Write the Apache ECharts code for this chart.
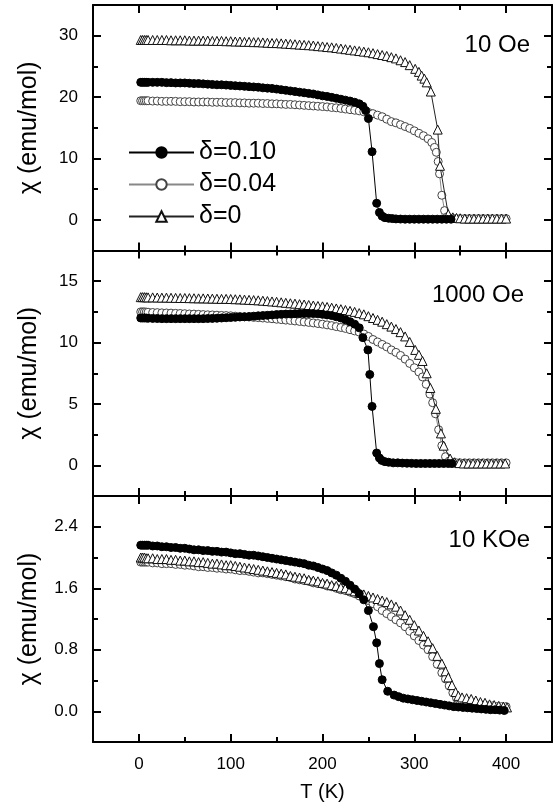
<!DOCTYPE html>
<html>
<head>
<meta charset="utf-8">
<script src="https://cdn.jsdelivr.net/npm/echarts@6/dist/echarts.min.js"></script>
<style>html,body{margin:0;padding:0;background:#fff;}#c{width:555px;height:809px;}</style>
</head>
<body>
<div id="c"></div>
<script>
// ---------- data (T in K, chi in emu/mol) ----------
const seriesNames = ['δ=0.10', 'δ=0.04', 'δ=0'];
const panelLabels = ['10 Oe', '1000 Oe', '10 KOe'];

const xMajor = [0, 100, 200, 300, 400];
const xMinor = [50, 150, 250, 350];
const yMajor1 = [0, 10, 20, 30];
const yMinor1 = [5, 15, 25];
const yMajor2 = [0, 5, 10, 15];
const yMinor2 = [2.5, 7.5, 12.5];
const yMajor3 = [0, 0.8, 1.6, 2.4];
const yMinor3 = [0.4, 1.2, 2.0];

// 10 Oe
const oe10_d010 = [[2,22.4],[4,22.4],[6,22.4],[8,22.4],[10,22.4],[15,22.4],[20,22.4],[25,22.4],[30,22.35],[35,22.35],[40,22.3],[45,22.3],[50,22.3],[55,22.25],[60,22.2],[65,22.2],[70,22.15],[75,22.1],[80,22.05],[85,22.0],[90,22.0],[95,21.95],[100,21.9],[105,21.85],[110,21.8],[115,21.75],[120,21.7],[125,21.65],[130,21.6],[135,21.5],[140,21.45],[145,21.4],[150,21.3],[155,21.2],[160,21.1],[165,21.0],[170,20.9],[175,20.8],[180,20.7],[185,20.6],[190,20.5],[195,20.35],[200,20.2],[205,20.1],[210,19.95],[215,19.8],[220,19.65],[225,19.5],[230,19.35],[235,19.15],[240,18.9],[244,18.5],[247,17.8],[250,16.5],[254,11.1],[259,2.7],[262,1.2],[265,0.6],[268,0.35],[272,0.25],[276,0.2],[280,0.15],[285,0.12],[290,0.1],[295,0.1],[300,0.1],[305,0.1],[310,0.1],[315,0.1],[320,0.1],[325,0.1],[330,0.1],[335,0.1],[340,0.1]];
const oe10_d004 = [[2,19.4],[4,19.4],[6,19.4],[8,19.4],[10,19.4],[15,19.35],[20,19.35],[25,19.3],[30,19.3],[35,19.3],[40,19.3],[45,19.25],[50,19.25],[55,19.25],[60,19.2],[65,19.2],[70,19.2],[75,19.2],[80,19.15],[85,19.15],[90,19.15],[95,19.1],[100,19.1],[105,19.1],[110,19.05],[115,19.05],[120,19.0],[125,19.0],[130,19.0],[135,18.95],[140,18.95],[145,18.9],[150,18.9],[155,18.85],[160,18.8],[165,18.8],[170,18.75],[175,18.7],[180,18.65],[185,18.6],[190,18.55],[195,18.5],[200,18.45],[205,18.4],[210,18.3],[215,18.25],[220,18.15],[225,18.05],[230,17.95],[235,17.85],[240,17.75],[245,17.6],[250,17.5],[255,17.3],[260,17.05],[265,16.8],[270,16.4],[275,16.0],[280,15.8],[285,15.5],[290,15.2],[295,14.9],[300,14.5],[305,14.1],[310,13.7],[315,13.2],[319,12.6],[322,11.8],[324,11.0],[326,9.5],[327.5,7.5],[330,4.0],[333,1.5],[336,0.5],[340,0.25],[345,0.2],[350,0.2],[355,0.2],[360,0.2],[365,0.2],[370,0.2],[375,0.2],[380,0.2],[385,0.2],[390,0.2],[395,0.2],[400,0.2]];
const oe10_d000 = [[2,29.3],[4,29.3],[6,29.3],[8,29.3],[10,29.3],[15,29.3],[20,29.3],[25,29.3],[30,29.3],[35,29.25],[40,29.25],[45,29.25],[50,29.25],[55,29.2],[60,29.2],[65,29.2],[70,29.2],[75,29.2],[80,29.15],[85,29.15],[90,29.15],[95,29.1],[100,29.1],[105,29.05],[110,29.05],[115,29.0],[120,29.0],[125,28.95],[130,28.95],[135,28.9],[140,28.85],[145,28.8],[150,28.8],[155,28.75],[160,28.7],[165,28.65],[170,28.6],[175,28.55],[180,28.5],[185,28.45],[190,28.4],[195,28.3],[200,28.25],[205,28.15],[210,28.1],[215,28.0],[220,27.9],[225,27.8],[230,27.7],[235,27.6],[240,27.5],[245,27.4],[250,27.3],[255,27.15],[260,27.0],[265,26.85],[270,26.7],[275,26.5],[280,26.3],[285,26.0],[290,25.7],[295,25.2],[301,24.6],[305,24.1],[308,23.5],[311,23.0],[313.5,22.4],[318,20.9],[325.5,14.7],[328,8.8],[337,0.9],[342,0.4],[346,0.3],[350,0.25],[355,0.2],[360,0.2],[365,0.2],[370,0.2],[375,0.2],[380,0.2],[385,0.2],[390,0.2],[395,0.2],[400,0.2]];

// 1000 Oe
const oe1000_d010 = [[2,12.0],[4,12.0],[6,12.0],[8,12.0],[10,11.98],[15,11.97],[20,11.96],[25,11.95],[30,11.95],[35,11.95],[40,11.95],[45,11.95],[50,11.95],[55,11.95],[60,11.95],[65,11.95],[70,11.95],[75,11.96],[80,11.97],[85,11.98],[90,12.0],[95,12.02],[100,12.04],[105,12.06],[110,12.08],[115,12.1],[120,12.12],[125,12.15],[130,12.18],[135,12.2],[140,12.22],[145,12.25],[150,12.28],[155,12.3],[160,12.32],[165,12.33],[170,12.35],[175,12.36],[180,12.37],[185,12.37],[190,12.36],[195,12.34],[200,12.3],[205,12.25],[210,12.2],[215,12.1],[220,12.0],[225,11.85],[230,11.7],[235,11.5],[240,11.2],[244,10.4],[249.5,9.4],[251.5,7.4],[254,4.8],[259,1.0],[262,0.6],[264.5,0.4],[268,0.3],[272,0.25],[277,0.2],[282,0.2],[287,0.18],[292,0.17],[297,0.16],[302,0.15],[307,0.15],[312,0.15],[317,0.15],[322,0.15],[327,0.15],[332,0.15],[337,0.15],[341,0.15]];
const oe1000_d004 = [[2,12.5],[4,12.5],[6,12.5],[8,12.48],[10,12.47],[15,12.45],[20,12.44],[25,12.42],[30,12.41],[35,12.4],[40,12.38],[45,12.37],[50,12.35],[55,12.33],[60,12.32],[65,12.3],[70,12.28],[75,12.26],[80,12.25],[85,12.23],[90,12.21],[95,12.2],[100,12.18],[105,12.15],[110,12.13],[115,12.1],[120,12.08],[125,12.05],[130,12.03],[135,12.0],[140,11.97],[145,11.94],[150,11.9],[155,11.87],[160,11.83],[165,11.8],[170,11.76],[175,11.72],[180,11.68],[185,11.64],[190,11.6],[195,11.55],[200,11.5],[205,11.44],[210,11.38],[215,11.3],[220,11.23],[225,11.15],[230,11.05],[235,10.95],[240,10.85],[245,10.7],[250,10.5],[255,10.25],[260,10.05],[265,9.85],[270,9.65],[275,9.4],[280,9.2],[285,8.95],[290,8.65],[295,8.3],[300,7.95],[305,7.6],[309,7.2],[313,6.6],[317,5.8],[320,5.1],[323,4.2],[326.5,2.9],[330,1.6],[334,0.7],[338,0.35],[342,0.25],[346,0.2],[350,0.2],[355,0.2],[360,0.2],[365,0.2],[370,0.2],[375,0.2],[380,0.2],[385,0.2],[390,0.2],[395,0.2],[400,0.2]];
const oe1000_d000 = [[2,13.7],[4,13.7],[6,13.7],[8,13.69],[10,13.68],[15,13.68],[20,13.67],[25,13.66],[30,13.66],[35,13.65],[40,13.64],[45,13.63],[50,13.63],[55,13.62],[60,13.61],[65,13.6],[70,13.6],[75,13.59],[80,13.58],[85,13.57],[90,13.56],[95,13.56],[100,13.55],[105,13.53],[110,13.52],[115,13.5],[120,13.48],[125,13.46],[130,13.44],[135,13.41],[140,13.38],[145,13.35],[150,13.32],[155,13.28],[160,13.24],[165,13.2],[170,13.17],[175,13.13],[180,13.1],[185,13.06],[190,13.02],[195,12.98],[200,12.95],[205,12.9],[210,12.84],[215,12.78],[220,12.72],[225,12.65],[230,12.58],[235,12.5],[240,12.4],[245,12.3],[250,12.15],[255,12.0],[260,11.85],[265,11.7],[270,11.5],[275,11.3],[280,11.1],[285,10.85],[290,10.5],[295,10.05],[301,9.4],[305,9.0],[309,8.5],[313.5,7.5],[317.5,6.3],[323.5,4.6],[329,2.6],[332,1.6],[339,0.55],[344,0.25],[349,0.18],[354,0.15],[359,0.15],[364,0.15],[369,0.15],[374,0.15],[379,0.15],[384,0.15],[389,0.15],[394,0.15],[399,0.15]];

// 10 KOe
const koe10_d010 = [[2,2.16],[4,2.16],[6,2.16],[8,2.16],[10,2.16],[15,2.15],[20,2.15],[25,2.14],[30,2.14],[35,2.13],[40,2.13],[45,2.12],[50,2.12],[55,2.11],[60,2.1],[65,2.1],[70,2.09],[75,2.09],[80,2.08],[85,2.08],[90,2.07],[95,2.07],[100,2.06],[105,2.05],[110,2.05],[115,2.04],[120,2.03],[125,2.03],[130,2.02],[135,2.01],[140,2.0],[145,1.99],[150,1.98],[155,1.97],[160,1.96],[165,1.95],[170,1.94],[175,1.93],[180,1.92],[185,1.9],[190,1.89],[195,1.87],[200,1.85],[205,1.83],[210,1.8],[215,1.77],[220,1.73],[225,1.69],[230,1.64],[235,1.59],[240,1.53],[245,1.45],[250,1.31],[255.5,1.1],[259,0.89],[262,0.62],[265,0.41],[271,0.26],[278,0.21],[283,0.19],[288,0.17],[293,0.16],[298,0.15],[303,0.14],[308,0.13],[313,0.12],[318,0.11],[323,0.1],[328,0.09],[333,0.08],[338,0.07],[343,0.06],[348,0.055],[353,0.05],[358,0.045],[363,0.04],[368,0.035],[373,0.03],[378,0.025],[383,0.02],[388,0.02],[393,0.015],[398,0.01]];
const koe10_d004 = [[2,1.94],[4,1.94],[6,1.94],[8,1.94],[10,1.94],[15,1.93],[20,1.93],[25,1.92],[30,1.92],[35,1.92],[40,1.91],[45,1.91],[50,1.9],[55,1.9],[60,1.89],[65,1.88],[70,1.88],[75,1.87],[80,1.87],[85,1.86],[90,1.86],[95,1.85],[100,1.85],[105,1.84],[110,1.83],[115,1.83],[120,1.82],[125,1.81],[130,1.8],[135,1.8],[140,1.79],[145,1.78],[150,1.77],[155,1.76],[160,1.75],[165,1.74],[170,1.72],[175,1.71],[180,1.7],[185,1.69],[190,1.67],[195,1.66],[200,1.65],[205,1.63],[210,1.62],[215,1.6],[220,1.58],[225,1.57],[230,1.55],[235,1.53],[240,1.5],[245,1.47],[250,1.44],[255,1.4],[260,1.36],[265,1.31],[270,1.27],[275,1.23],[280,1.19],[285,1.15],[290,1.1],[295,1.04],[300,0.98],[305,0.92],[310,0.86],[315,0.8],[320,0.71],[325,0.61],[330,0.5],[334,0.42],[338,0.33],[342,0.24],[346,0.17],[350,0.13],[355,0.11],[360,0.1],[365,0.09],[370,0.08],[375,0.08],[380,0.07],[385,0.07],[390,0.06],[395,0.06],[400,0.06]];
const koe10_d000 = [[2,2.0],[4,2.0],[6,2.0],[8,1.99],[10,1.99],[15,1.99],[20,1.98],[25,1.98],[30,1.98],[35,1.97],[40,1.97],[45,1.96],[50,1.96],[55,1.95],[60,1.95],[65,1.94],[70,1.94],[75,1.93],[80,1.92],[85,1.92],[90,1.91],[95,1.9],[100,1.9],[105,1.89],[110,1.88],[115,1.87],[120,1.86],[125,1.85],[130,1.84],[135,1.83],[140,1.82],[145,1.81],[150,1.8],[155,1.79],[160,1.78],[165,1.76],[170,1.75],[175,1.74],[180,1.73],[185,1.71],[190,1.7],[195,1.69],[200,1.67],[205,1.66],[210,1.64],[215,1.63],[220,1.61],[225,1.6],[230,1.58],[235,1.56],[240,1.54],[245,1.52],[250,1.5],[255,1.48],[260,1.46],[265,1.44],[270,1.42],[275,1.39],[280,1.36],[285,1.31],[290,1.25],[295,1.19],[300,1.12],[305,1.05],[310,0.98],[315,0.91],[320,0.82],[325,0.72],[330,0.62],[334,0.52],[337,0.44],[341,0.34],[345,0.25],[348,0.2],[352,0.18],[357,0.17],[362,0.16],[367,0.14],[372,0.12],[377,0.11],[382,0.09],[387,0.08],[392,0.07],[397,0.06],[401,0.05]];

// ---------- layout ----------
const FONT = "'Liberation Sans', Arial, Helvetica, sans-serif";
const grids = [
  {left: 93, top: 5, width: 459, height: 245.5},
  {left: 93, top: 250.5, width: 459, height: 245.5},
  {left: 93, top: 496, width: 459, height: 246}
];
const yRanges = [[-5, 35], [-2.5, 17.5], [-0.4, 2.8]];
const yMajors = [yMajor1, yMajor2, yMajor3];
const yMinors = [yMinor1, yMinor2, yMinor3];
const yFmt = [v => String(v), v => String(v), v => v.toFixed(1)];
const panelData = [
  [oe10_d010, oe10_d004, oe10_d000],
  [oe1000_d010, oe1000_d004, oe1000_d000],
  [koe10_d010, koe10_d004, koe10_d000]
];

const lineCol = '#000';
const xAxes = [], yAxes = [];
for (let g = 0; g < 3; g++) {
  const baseX = {type: 'value', gridIndex: g, min: -50, max: 450, splitLine: {show: false}};
  xAxes.push(Object.assign({}, baseX, {
    position: 'bottom',
    axisLine: {show: true, onZero: false, lineStyle: {color: lineCol, width: 2}},
    axisTick: {show: true, inside: true, length: 8, lineStyle: {color: lineCol, width: 2}, customValues: xMajor},
    axisLabel: {show: g === 2, customValues: xMajor, margin: 14, color: '#000', fontSize: 17, fontFamily: FONT},
    name: g === 2 ? 'T (K)' : '', nameLocation: 'middle', nameGap: 40,
    nameTextStyle: {color: '#000', fontSize: 20, fontFamily: FONT}
  }));
  xAxes.push(Object.assign({}, baseX, {
    position: 'bottom',
    axisLine: {show: false, onZero: false},
    axisTick: {show: true, inside: true, length: 5, lineStyle: {color: lineCol, width: 2}, customValues: xMinor},
    axisLabel: {show: false}
  }));
  xAxes.push(Object.assign({}, baseX, {
    position: 'top',
    axisLine: {show: true, onZero: false, lineStyle: {color: lineCol, width: 2}},
    axisTick: {show: true, inside: true, length: 8, lineStyle: {color: lineCol, width: 2}, customValues: xMajor},
    axisLabel: {show: false}
  }));
  xAxes.push(Object.assign({}, baseX, {
    position: 'top',
    axisLine: {show: false, onZero: false},
    axisTick: {show: true, inside: true, length: 5, lineStyle: {color: lineCol, width: 2}, customValues: xMinor},
    axisLabel: {show: false}
  }));

  const baseY = {type: 'value', gridIndex: g, min: yRanges[g][0], max: yRanges[g][1], splitLine: {show: false}};
  yAxes.push(Object.assign({}, baseY, {
    position: 'left',
    axisLine: {show: true, onZero: false, lineStyle: {color: lineCol, width: 2}},
    axisTick: {show: true, inside: true, length: 8, lineStyle: {color: lineCol, width: 2}, customValues: yMajors[g]},
    axisLabel: {show: true, customValues: yMajors[g], formatter: yFmt[g], margin: 15, color: '#000', fontSize: 17, fontFamily: FONT},
    name: 'χ (emu/mol)', nameLocation: 'middle', nameGap: 51,
    nameTextStyle: {color: '#000', fontSize: 25, fontFamily: FONT}
  }));
  yAxes.push(Object.assign({}, baseY, {
    position: 'left',
    axisLine: {show: false, onZero: false},
    axisTick: {show: true, inside: true, length: 5, lineStyle: {color: lineCol, width: 2}, customValues: yMinors[g]},
    axisLabel: {show: false}
  }));
  yAxes.push(Object.assign({}, baseY, {
    position: 'right',
    axisLine: {show: true, onZero: false, lineStyle: {color: lineCol, width: 2}},
    axisTick: {show: true, inside: true, length: 8, lineStyle: {color: lineCol, width: 2}, customValues: yMajors[g]},
    axisLabel: {show: false}
  }));
  yAxes.push(Object.assign({}, baseY, {
    position: 'right',
    axisLine: {show: false, onZero: false},
    axisTick: {show: true, inside: true, length: 5, lineStyle: {color: lineCol, width: 2}, customValues: yMinors[g]},
    axisLabel: {show: false}
  }));
}

const styles = [
  {symbol: 'circle', symbolSize: 8, itemStyle: {color: '#000', borderColor: '#000', borderWidth: 1}, lineStyle: {color: '#000', width: 1}, z: 4},
  {symbol: 'circle', symbolSize: 8, itemStyle: {color: '#fff', borderColor: '#444', borderWidth: 1}, lineStyle: {color: '#888', width: 1}, z: 2},
  {symbol: 'triangle', symbolSize: 9, itemStyle: {color: '#fff', borderColor: '#111', borderWidth: 1}, lineStyle: {color: '#222', width: 1}, z: 3}
];
const series = [];
const drawOrder = [1, 2, 0];
for (let g = 0; g < 3; g++) {
  drawOrder.forEach(k => {
    series.push(Object.assign({
      type: 'line', name: seriesNames[k], data: panelData[g][k],
      xAxisIndex: 4 * g, yAxisIndex: 4 * g, showSymbol: true, animation: false,
      emphasis: {disabled: true}
    }, JSON.parse(JSON.stringify(styles[k]))));
  });
}

const titlePos = [
  {right: 25, top: 33},
  {right: 31, top: 283},
  {right: 25, top: 528}
];
const titles = panelLabels.map((t, i) => Object.assign({
  text: t, textStyle: {color: '#000', fontSize: 24, fontWeight: 'normal', fontFamily: FONT}, padding: 0
}, titlePos[i]));

const chart = echarts.init(document.getElementById('c'), null, {renderer: 'canvas'});
chart.setOption({
  backgroundColor: '#fff',
  animation: false,
  title: titles,
  legend: {
    data: seriesNames, orient: 'vertical', left: 128, top: 140, itemWidth: 65, itemHeight: 13,
    itemGap: 7, padding: 0, selectedMode: false,
    textStyle: {color: '#000', fontSize: 25, fontFamily: FONT, padding: [0, 0, 0, 0]}
  },
  grid: grids,
  xAxis: xAxes,
  yAxis: yAxes,
  series: series
});
</script>
</body>
</html>
